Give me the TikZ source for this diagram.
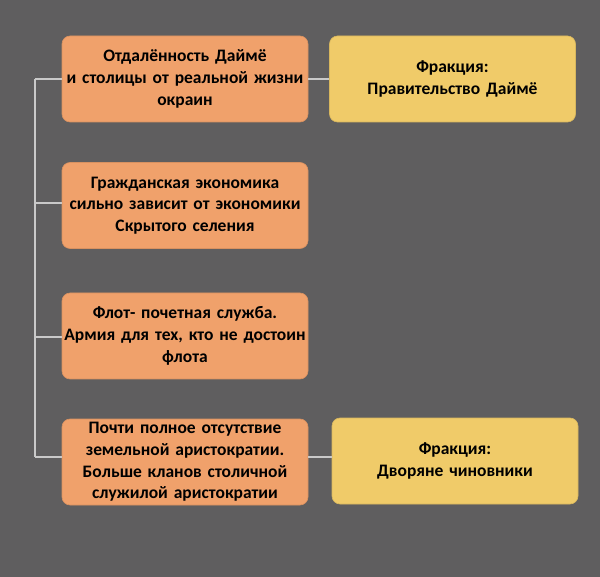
\documentclass[tikz,border=0pt]{standalone}
\usepackage{fontspec}
\setmainfont{Carlito}
\definecolor{bgc}{HTML}{5F5E5F}
\definecolor{orangebox}{HTML}{F0A16B}
\definecolor{yellowbox}{HTML}{F0CB69}
\definecolor{linec}{HTML}{C9C9C9}
\tikzset{
  box/.style={rounded corners=8pt, minimum width=246pt, minimum height=86pt, text width=244pt, align=center,
    font=\fontsize{17.5}{21.7}\selectfont\bfseries, text=black, inner sep=1pt},
  obox/.style={box, fill=orangebox, draw=orangebox!90!black, line width=0.6pt},
  ybox/.style={box, fill=yellowbox, draw=yellowbox!90!black, line width=0.6pt},
  conn/.style={draw=linec, line width=1.8pt},
}
\begin{document}
\begin{tikzpicture}[x=1pt,y=-1pt]
\fill[bgc] (0,0) rectangle (600,577);
\useasboundingbox (0,0) rectangle (600,577);
\node[obox] (b1) at (185,79) {Отдалённость Даймё\\и столицы от реальной жизни\\окраин};
\node[obox] (b2) at (185,205.5) {Гражданская экономика\\сильно зависит от экономики\\Скрытого селения};
\node[obox] (b3) at (185,336) {Флот- почетная служба.\\Армия для тех, кто не достоин\\флота};
\node[obox] (b4) at (185,462) {Почти полное отсутствие\\земельной аристократии.\\Больше кланов столичной\\служилой аристократии};
\node[ybox] (y1) at (452.5,79) {Фракция:\\Правительство Даймё\\[2pt]};
\node[ybox] (y2) at (455,461) {Фракция:\\Дворяне чиновники};
\coordinate (s1) at (35,79);
\coordinate (s2) at (35,203);
\coordinate (s3) at (35,337);
\coordinate (s4) at (35,457);
\draw[conn] (s1) -- (s4);
\draw[conn] (s1) -- (b1.west |- s1);
\draw[conn] (s2) -- (b2.west |- s2);
\draw[conn] (s3) -- (b3.west |- s3);
\draw[conn] (s4) -- (b4.west |- s4);
\draw[conn] (b1.east) -- (y1.west);
\draw[conn] (b4.east |- s4) -- (y2.west |- s4);
\end{tikzpicture}
\end{document}
